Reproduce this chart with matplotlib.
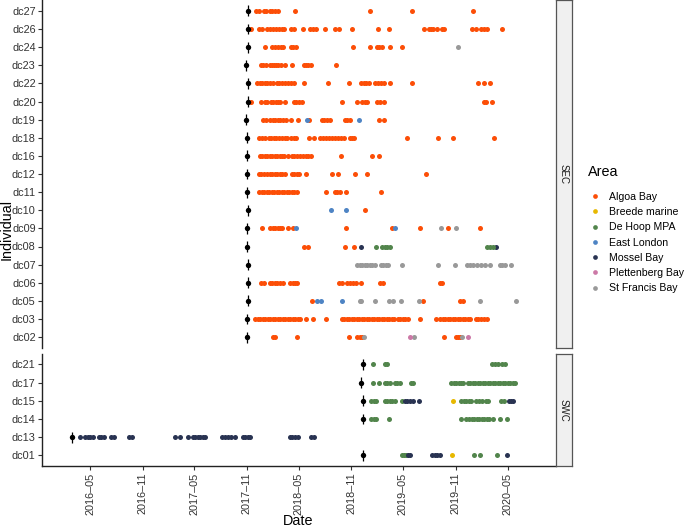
import numpy as np
import pandas as pd
import matplotlib
matplotlib.use('Agg')
import matplotlib.pyplot as plt
from matplotlib.lines import Line2D

plt.rcParams['font.family'] = ['Liberation Sans', 'DejaVu Sans']

# detection times are given in weeks after 1 Nov 2017
WEEK0 = pd.Timestamp('2017-11-01')

areas = ['Algoa Bay', 'Breede marine', 'De Hoop MPA', 'East London',
         'Mossel Bay', 'Plettenberg Bay', 'St Francis Bay']
area_colours = ['#FC4E07', '#E7B800', '#52854C', '#4E84C4',
                '#293352', '#CC79A7', '#999999']

sec_ids = ['dc27', 'dc26', 'dc24', 'dc23', 'dc22', 'dc20', 'dc19', 'dc18', 'dc16', 'dc12',
           'dc11', 'dc10', 'dc09', 'dc08', 'dc07', 'dc06', 'dc05', 'dc03', 'dc02']
swc_ids = ['dc21', 'dc17', 'dc15', 'dc14', 'dc13', 'dc01']

tag_week = {
    'dc27': 0.35, 'dc26': 0.35, 'dc24': 0.35, 'dc23': -0.5, 'dc22': 0.35, 'dc20': 0.35,
    'dc19': -0.65, 'dc18': -0.15, 'dc16': -0.15, 'dc12': -0.15, 'dc11': 0.15, 'dc10': 0.65,
    'dc09': -0.15, 'dc08': -0.15, 'dc07': 0.65, 'dc06': 0.65, 'dc05': 0.65, 'dc03': -0.15,
    'dc02': -0.15, 'dc21': 58.15, 'dc17': 56.9, 'dc15': 58.15, 'dc14': 58.15, 'dc13': -87.35,
    'dc01': 58.15,
}

dc27 = {'Algoa Bay': [4.5, 6, 8.5, 9.5, 11.5, 12.5, 14, 15.5, 24, 61.5, 82.5, 113]}
dc26 = {'Algoa Bay': [2, 6, 7.5, 10, 11.5, 13, 14.5, 16, 17.5, 18.5, 22, 23.5, 28, 31.5, 33,
                      34.5, 39, 44, 45.75, 52.25, 65.5, 70.75, 88.5, 91, 92, 93, 95, 97.5,
                      98.5, 112.5, 114.25, 117, 118.25, 119.75, 127.25]}
dc24 = {'Algoa Bay': [9, 12.5, 14, 15.5, 16.75, 18, 22, 23, 24.25, 53, 61.5, 65, 66, 67.5,
                      71.5, 77.5],
        'St Francis Bay': [105.5]}
dc23 = {'Algoa Bay': [7, 8, 9.25, 11.5, 12.5, 13.5, 14.5, 15.5, 16.75, 18.75, 22.5, 28.5,
                      29.5, 30.5, 32, 44.5]}
dc22 = {'Algoa Bay': [5, 6.25, 7.5, 8.75, 10, 11.5, 13, 14.75, 16, 17.5, 19, 20.5, 22, 23.25,
                      28.5, 40.5, 51, 57, 58.25, 59.5, 60.75, 64, 65.5, 67, 68.5, 71.5, 82.5,
                      115.5, 118.5, 121.5]}
dc20 = {'Algoa Bay': [1.75, 7, 9, 10, 11.75, 13, 14.25, 15.5, 16.5, 19, 23.25, 24.5, 26,
                      27.25, 47.5, 55, 57.5, 58.75, 60, 65, 66.5, 68.25, 118.5, 119.5, 122.5]}
dc19 = {'Algoa Bay': [8, 9.5, 11.5, 12.75, 14, 15.25, 16.5, 18, 19.5, 22, 25.25, 30.75, 37.25,
                      38.5, 40, 41.25, 49, 50, 51.25, 65.75, 68.25],
        'East London': [29.75, 56]}
dc18 = {'Algoa Bay': [6, 7.5, 8.75, 10.75, 12, 13.25, 14.5, 16, 17.5, 18.75, 19.75, 22, 23.25,
                      24.5, 30.75, 33.25, 36.5, 38, 39.5, 41, 42.5, 44, 45.5, 47, 48.5, 51.5,
                      52.5, 53.5, 80, 95.5, 103, 123.5]}
dc16 = {'Algoa Bay': [6.25, 7.5, 8.75, 10, 11.25, 12.5, 13.75, 15, 16.25, 17.5, 18.5, 20.25,
                      22.25, 23.5, 25, 26.5, 28, 29.5, 30.5, 32, 47, 62.25, 66]}
dc12 = {'Algoa Bay': [5.75, 7, 8.25, 10, 11.25, 12.5, 13.75, 15, 16.25, 17.5, 19, 22.25, 23.5,
                      24.75, 26, 29.5, 42.25, 45.25, 54, 59.75, 89.25]}
dc11 = {'Algoa Bay': [6, 7.25, 8.5, 9.75, 11, 12.25, 13.5, 14.75, 16, 17.25, 18.5, 19.75, 21,
                      22.25, 23.5, 25, 39.5, 43.75, 45, 46.25, 49.25, 67]}
dc10 = {'East London': [42, 49.25],
        'Algoa Bay': [59]}
dc09 = {'Algoa Bay': [7.25, 11.5, 12.75, 14, 15.25, 16.5, 17.5, 20.25, 22.75, 49.5, 72.25,
                      86.25, 100.25, 116.5],
        'East London': [24.25, 73.75],
        'St Francis Bay': [97, 104.5]}
dc08 = {'Algoa Bay': [28.5, 30.25, 48.75, 53.5],
        'Mossel Bay': [56.75, 124.5],
        'De Hoop MPA': [64.5, 67.5, 68.75, 70, 71.5, 119.75, 121.25, 122.75]}
dc07 = {'St Francis Bay': [55, 56.25, 57.5, 58.75, 60, 61.25, 62.5, 64, 66.75, 68, 69.5, 70.5,
                           77.5, 95.5, 103.75, 110, 111.5, 113, 114.75, 117, 119, 121.5,
                           126.25, 127.5, 129, 132]}
dc06 = {'Algoa Bay': [6.75, 8.5, 11.25, 12.5, 13.75, 15, 16.5, 18, 21.5, 22.75, 24, 24.75,
                      45.75, 47.25, 50, 51.5, 53, 54.25, 56.75, 66.5, 68, 96.5, 97.5]}
dc05 = {'Algoa Bay': [32.5, 87.75, 106.5, 108],
        'East London': [35, 36.75, 47.5],
        'St Francis Bay': [56.25, 57, 64, 70.75, 72.75, 76.75, 85.75, 116.25, 134.25]}
dc03 = {'Algoa Bay': [4, 5.25, 6.5, 7.75, 9, 10.25, 11.5, 12.75, 14, 15.25, 16.5, 17.75, 19,
                      20.25, 21.5, 22.75, 24, 25.25, 26.5, 29.25, 32.75, 39.25, 47.25, 48.5,
                      49.75, 51, 52.25, 53.5, 54.75, 56, 57.25, 58.5, 59.75, 61, 62.25, 63.5,
                      64.75, 66, 67.25, 68.5, 69.75, 71, 72.25, 73.5, 75.25, 76.5, 77.75, 79,
                      80.25, 86.5, 94.25, 96.5, 97.75, 99, 100.25, 101.5, 102.75, 104, 105.25,
                      106.5, 107.75, 109, 110.25, 111.5, 114.25, 115.5, 117, 118.5, 119.75]}
dc02 = {'Algoa Bay': [13, 14, 24.75, 51, 55, 56.25, 57.25, 98.5, 104.5, 105.5, 106.5],
        'St Francis Bay': [58.5, 83.25, 107.5],
        'Plettenberg Bay': [81.25, 110.5]}

dc21 = {'De Hoop MPA': [62.75, 68.75, 70, 122.25, 123.75, 125.5, 127.25, 129]}
dc17 = {'De Hoop MPA': [62.75, 65.75, 68.75, 70, 71.5, 73.75, 75, 76.5, 82, 83, 102, 103.25,
                        104.5, 105.75, 107, 108, 110.25, 111.5, 112.75, 114, 115.25, 116.5,
                        117.75, 119, 120.25, 121.5, 122.75, 124, 125.25, 126.5, 127.75, 129,
                        130.25, 131.5, 132.75, 134]}
dc15 = {'De Hoop MPA': [62, 63.25, 64.5, 68.75, 70, 71.25, 72.5, 74, 77.5, 107, 108.25, 109.5,
                        110.75, 112, 114.25, 115.75, 117.25, 119.5, 120.5, 127, 128.25],
        'Mossel Bay': [78.75, 80, 81.25, 82.75, 85.75, 130.75, 131.75, 133],
        'Breede marine': [103]}
dc14 = {'De Hoop MPA': [62, 63.25, 64.5, 71, 107, 109.5, 111, 112.25, 113.5, 114.75, 116,
                        117.25, 118.5, 119.75, 121, 122.75, 126.5, 129.75]}
dc13 = {'Mossel Bay': [-83.75, -81, -79.75, -78.5, -77, -74.25, -73, -71.5, -68, -66.5,
                       -59.25, -57.75, -36, -33.5, -29.75, -27.25, -26, -24.75, -23.5, -22.25,
                       -21.25, -12.5, -11, -9.5, -8, -6, -2.25, -1, 0.5, 1.25, 21.25, 22.5,
                       24, 25.25, 32, 33.5]}
dc01 = {'De Hoop MPA': [77.25, 78.5, 79.5, 113.25, 116.5, 124.75],
        'Mossel Bay': [80.5, 81.5, 92.5, 93.75, 94.75, 96.25, 130],
        'Breede marine': [102.5]}

detections = {
    'dc27': dc27, 'dc26': dc26, 'dc24': dc24, 'dc23': dc23, 'dc22': dc22, 'dc20': dc20,
    'dc19': dc19, 'dc18': dc18, 'dc16': dc16, 'dc12': dc12, 'dc11': dc11, 'dc10': dc10,
    'dc09': dc09, 'dc08': dc08, 'dc07': dc07, 'dc06': dc06, 'dc05': dc05, 'dc03': dc03,
    'dc02': dc02, 'dc21': dc21, 'dc17': dc17, 'dc15': dc15, 'dc14': dc14, 'dc13': dc13,
    'dc01': dc01,
}


def to_date(weeks):
    return WEEK0 + pd.to_timedelta(np.atleast_1d(weeks) * 7, unit='D')


colour_of = dict(zip(areas, area_colours))

W, H = 685, 528
fig = plt.figure(figsize=(W / 100, H / 100), dpi=100)
ax_top = fig.add_axes([42 / W, 1 - 348 / H, 514 / W, 348 / H])
ax_bot = fig.add_axes([42 / W, 1 - 466.3 / H, 514 / W, 112.8 / H])

ticks = pd.date_range('2016-05-01', '2020-05-01', freq='6MS')
xlim = to_date([-102.5, 154.5])

for ax, ids, label in [(ax_top, sec_ids, 'SEC'), (ax_bot, swc_ids, 'SWC')]:
    n = len(ids)
    ypos = {ind: n - 1 - i for i, ind in enumerate(ids)}
    for ind in ids:
        for area, weeks in detections[ind].items():
            d = to_date(weeks)
            ax.scatter(d, np.full(len(d), ypos[ind]), s=13, color=colour_of[area],
                       linewidths=0, zorder=2)
    for ind in ids:
        t = to_date(tag_week[ind])
        ax.vlines(t, ypos[ind] - 0.3, ypos[ind] + 0.3, color='black', lw=0.9, zorder=3)
        ax.scatter(t, [ypos[ind]], s=15, color='black', linewidths=0, zorder=4)
    ax.set_ylim(-0.6, n - 0.4)
    ax.set_yticks(range(n))
    ax.set_yticklabels(ids[::-1])
    ax.set_xlim(xlim)
    ax.set_xticks(ticks)
    for side in ['top', 'right']:
        ax.spines[side].set_visible(False)
    for side in ['left', 'bottom']:
        ax.spines[side].set_linewidth(1.0)
        ax.spines[side].set_color('#222222')
    ax.tick_params(axis='both', length=3, width=0.8, color='#333333',
                   labelsize=7.8, labelcolor='#333333', pad=1.5)

    # facet strip
    pos = ax.get_position()
    sax = fig.add_axes([556 / W, pos.y0, 16 / W, pos.height])
    sax.set_xticks([])
    sax.set_yticks([])
    sax.set_facecolor('#F0F0F0')
    for sp in sax.spines.values():
        sp.set_color('#555555')
        sp.set_linewidth(0.9)
    sax.text(0.5, 0.5, label, rotation=-90, ha='center', va='center', fontsize=7,
             color='#1A1A1A', transform=sax.transAxes)

ax_top.tick_params(axis='x', bottom=False, labelbottom=False)
ax_top.spines['bottom'].set_visible(False)
ax_bot.set_xticklabels([d.strftime('%Y\u2013%m') for d in ticks], rotation=90)

fig.text(7 / W, 1 - 230 / H, 'Individual', rotation=90, ha='center', va='center',
         fontsize=10.4)
fig.text(298 / W, 1 - 521 / H, 'Date', ha='center', va='center', fontsize=10.4)

handles = [Line2D([], [], marker='o', ls='', markersize=3.4, markeredgewidth=0,
                  color=c) for c in area_colours]
leg = fig.legend(handles, areas, title='Area', loc='upper left',
                 bbox_to_anchor=(584 / W, 1 - 161 / H), frameon=False, fontsize=7.6,
                 title_fontsize=10.4, handletextpad=0.8, labelspacing=0.5,
                 handlelength=1.2, borderaxespad=0)
leg._legend_box.align = 'left'
leg._legend_box.sep = 9

fig.savefig('out.png', dpi=100)
